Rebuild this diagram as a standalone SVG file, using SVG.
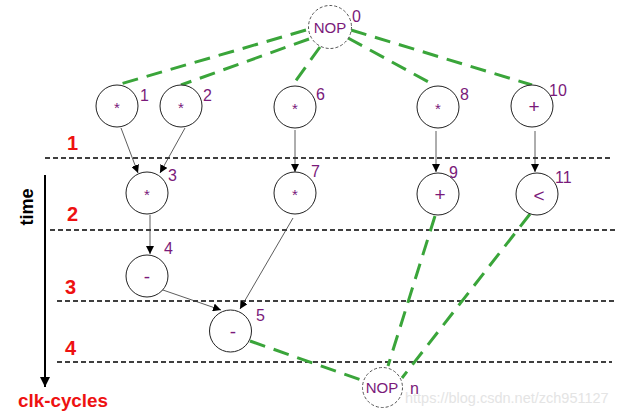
<svg xmlns="http://www.w3.org/2000/svg" width="628" height="417" viewBox="0 0 628 417">
<defs>
<style>
.op{fill:#fff;stroke:#222;stroke-width:1}
.nop{fill:#fff;stroke:#555;stroke-width:1;stroke-dasharray:3,2}
.sym{font-family:"Liberation Sans",Arial,sans-serif;font-size:15px;fill:#7a1a7a;text-anchor:middle}
.big{font-size:19px}
.num{font-family:"Liberation Sans",Arial,sans-serif;font-size:16px;fill:#7a1a7a}
.cyc{font-family:"Liberation Sans",Arial,sans-serif;font-size:20px;font-weight:bold;fill:#ee1111}
.clk{fill:none;stroke:#000;stroke-width:1.5;stroke-dasharray:5,3}
.dep{fill:none;stroke:#333;stroke-width:0.8;marker-end:url(#ah)}
.gr{fill:none;stroke:#3aa53a;stroke-width:3;stroke-dasharray:16,9}
</style>
<marker id="ah" viewBox="0 0 10 10" refX="10" refY="5" markerWidth="8" markerHeight="8" markerUnits="userSpaceOnUse" orient="auto">
<path d="M0,0 L10,5 L0,10 z" fill="#000"/>
</marker>
<marker id="bigah" viewBox="0 0 10 10" refX="10" refY="5" markerWidth="10" markerHeight="10" markerUnits="userSpaceOnUse" orient="auto">
<path d="M0,0 L10,5 L0,10 z" fill="#000"/>
</marker>
</defs>
<rect width="628" height="417" fill="#fff"/>

<g id="clock-lines">
<line class="clk" x1="45" y1="158" x2="612" y2="158"/>
<line class="clk" x1="50" y1="230" x2="615" y2="230"/>
<line class="clk" x1="57" y1="301" x2="615" y2="301"/>
<line class="clk" x1="57" y1="362" x2="612" y2="362"/>
<text class="cyc" x="67" y="150">1</text>
<text class="cyc" x="67" y="221">2</text>
<text class="cyc" x="65" y="294">3</text>
<text class="cyc" x="65" y="355">4</text>
</g>

<g id="time-axis">
<line x1="45" y1="175" x2="45" y2="387" stroke="#000" stroke-width="2" marker-end="url(#bigah)"/>
<text x="0" y="0" transform="translate(33,207) rotate(-90)" font-family="'Liberation Sans',Arial,sans-serif" font-size="18" font-weight="bold" text-anchor="middle" fill="#000">time</text>
<text x="18" y="407" font-family="'Liberation Sans',Arial,sans-serif" font-size="19" font-weight="bold" fill="#ee1111" textLength="90" lengthAdjust="spacingAndGlyphs">clk-cycles</text>
</g>

<g id="connectors">
<line class="gr" x1="306" y1="30" x2="117" y2="85"/>
<line class="gr" x1="309" y1="39" x2="181" y2="85"/>
<line class="gr" x1="320" y1="47" x2="292" y2="86"/>
<line class="gr" x1="348" y1="38" x2="434" y2="85"/>
<line class="gr" x1="351" y1="30" x2="532" y2="85"/>
<line class="gr" x1="250" y1="341" x2="364" y2="381"/>
<line class="gr" x1="435" y1="216" x2="388" y2="366"/>
<line class="gr" x1="530" y1="214" x2="402" y2="378"/>
<line class="dep" x1="121" y1="128" x2="138" y2="173"/>
<line class="dep" x1="185" y1="128" x2="160" y2="173"/>
<line class="dep" x1="295" y1="130" x2="295" y2="172"/>
<line class="dep" x1="436" y1="131" x2="436" y2="172"/>
<line class="dep" x1="535" y1="131" x2="535" y2="172"/>
<line class="dep" x1="150" y1="215" x2="150" y2="254"/>
<line class="dep" x1="160" y1="289" x2="221" y2="310"/>
<line class="dep" x1="293" y1="218" x2="240" y2="309"/>
</g>

<g id="n0"><circle class="nop" cx="330" cy="27" r="21.5"/><text class="sym" x="330" y="33">NOP</text><text class="num" x="352" y="22">0</text></g>
<g id="n1"><circle class="op" cx="117" cy="106" r="21"/><text class="sym" x="117" y="113">*</text><text class="num" x="140" y="101">1</text></g>
<g id="n2"><circle class="op" cx="181" cy="106" r="21"/><text class="sym" x="181" y="113">*</text><text class="num" x="203" y="101">2</text></g>
<g id="n6"><circle class="op" cx="295" cy="107" r="21"/><text class="sym" x="295" y="114">*</text><text class="num" x="316" y="100">6</text></g>
<g id="n8"><circle class="op" cx="438" cy="107" r="21"/><text class="sym" x="438" y="114">*</text><text class="num" x="460" y="100">8</text></g>
<g id="n10"><circle class="op" cx="532" cy="106" r="21"/><text class="sym big" x="534" y="113">+</text><text class="num" x="549" y="96">10</text></g>
<g id="n3"><circle class="op" cx="147" cy="193" r="21"/><text class="sym" x="147" y="200">*</text><text class="num" x="168" y="181">3</text></g>
<g id="n7"><circle class="op" cx="295" cy="193" r="21"/><text class="sym" x="295" y="200">*</text><text class="num" x="311" y="177">7</text></g>
<g id="n9"><circle class="op" cx="438" cy="194" r="21"/><text class="sym big" x="440" y="201">+</text><text class="num" x="449" y="178">9</text></g>
<g id="n11"><circle class="op" cx="537" cy="194" r="21"/><text class="sym big" x="539" y="202">&lt;</text><text class="num" x="555" y="183">11</text></g>
<g id="n4"><circle class="op" cx="147" cy="276" r="21"/><text class="sym big" x="147" y="283">-</text><text class="num" x="164" y="254">4</text></g>
<g id="n5"><circle class="op" cx="230.5" cy="331" r="21"/><text class="sym big" x="233" y="338">-</text><text class="num" x="256" y="321">5</text></g>
<g id="nn"><circle class="nop" cx="382.5" cy="387.5" r="20"/><text class="sym" x="382" y="393">NOP</text><text class="num" x="410" y="394">n</text></g>

<text x="405" y="403" font-family="'Liberation Sans',Arial,sans-serif" font-size="14.5" fill="#e4e4e4">https://blog.csdn.net/zch951127</text>
</svg>
